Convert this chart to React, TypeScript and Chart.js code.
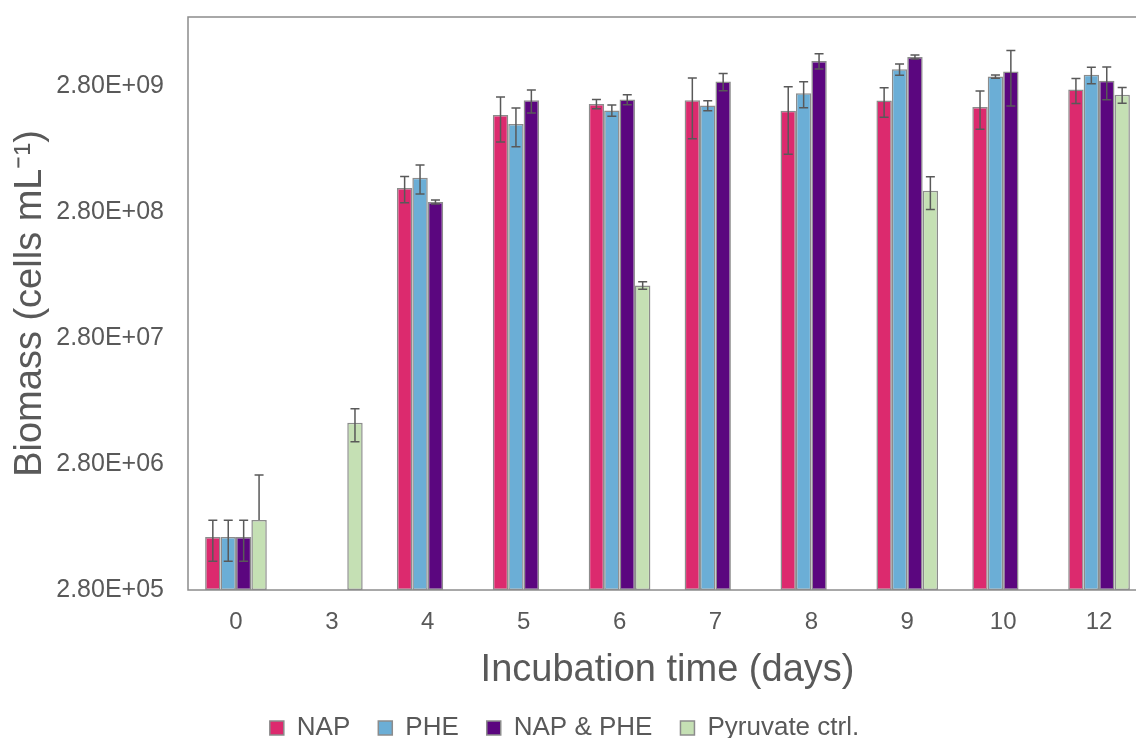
import React, { useEffect, useRef } from 'react';
import { Chart, registerables } from 'chart.js';

Chart.register(...registerables);

// ---- Data ----
const days = ['0', '3', '4', '5', '6', '7', '8', '9', '10', '12'];
const seriesNames = ['NAP', 'PHE', 'NAP & PHE', 'Pyruvate ctrl.'];

const napValues = [7.39e5, null, 4.38e8, 1.668e9, 2.04e9, 2.18e9, 1.8e9, 2.17e9, 1.93e9, 2.65e9];
const napErrors = [2.65e5, null, 1.035e8, 6.5e8, 1.7e8, 1.1e9, 9.9e8, 5.75e8, 6.5e8, 6.0e8];

const pheValues = [7.39e5, null, 5.29e8, 1.41e9, 1.81e9, 1.98e9, 2.48e9, 3.84e9, 3.36e9, 3.47e9];
const pheErrors = [2.65e5, null, 1.375e8, 4.8e8, 1.85e8, 1.8e8, 5.75e8, 3.9e8, 9.5e7, 5.15e8];

const napPheValues = [7.39e5, null, 3.39e8, 2.18e9, 2.21e9, 3.07e9, 4.48e9, 4.82e9, 3.69e9, 3.11e9];
const napPheErrors = [2.65e5, null, 1.2e7, 4.5e8, 2.0e8, 4.8e8, 6.2e8, 1.75e8, 1.73e9, 9.05e8];

const pyruvateValues = [1.009e6, 5.96e6, null, null, 7.36e7, null, null, 4.17e8, null, 2.41e9];
const pyruvateErrors = [1.29e6, 1.75e6, null, null, 5.0e6, null, null, 1.22e8, null, 3.45e8];

const yTickValues = [2.8e5, 2.8e6, 2.8e7, 2.8e8, 2.8e9];
const yTickLabels = ['2.80E+05', '2.80E+06', '2.80E+07', '2.80E+08', '2.80E+09'];
const yMin = 2.8e5;
const yMax = 1e10;

const seriesColors = ['#DC2A6E', '#6BAED6', '#5B067F', '#C5E0B4'];

const FONT = '"Liberation Sans", Arial, sans-serif';
const TEXT = '#595959';
const FRAME = '#8c8c8c';

const errorBarPlugin = {
  id: 'errorBars',
  afterDatasetsDraw(chart: any) {
    const ctx = chart.ctx;
    const yScale = chart.scales.y;
    ctx.save();
    ctx.strokeStyle = '#595959';
    ctx.lineWidth = 1.5;
    chart.data.datasets.forEach((ds: any, di: number) => {
      const meta = chart.getDatasetMeta(di);
      if (meta.hidden) return;
      meta.data.forEach((bar: any, i: number) => {
        const v = ds.data[i];
        const e = ds.errors ? ds.errors[i] : null;
        if (v == null || e == null) return;
        const x = bar.x;
        const yTop = yScale.getPixelForValue(v + e);
        const yVal = yScale.getPixelForValue(v);
        const hasLow = v - e > 0;
        const yLow = hasLow ? yScale.getPixelForValue(v - e) : yVal;
        const cap = 4.5;
        ctx.beginPath();
        ctx.moveTo(x, yTop);
        ctx.lineTo(x, yLow);
        ctx.moveTo(x - cap, yTop);
        ctx.lineTo(x + cap, yTop);
        if (hasLow) {
          ctx.moveTo(x - cap, yLow);
          ctx.lineTo(x + cap, yLow);
        }
        ctx.stroke();
      });
    });
    ctx.restore();
  },
};

const framePlugin = {
  id: 'frame',
  afterLayout(chart: any) {
    if (chart.legend) {
      chart.legend.left -= 9;
      chart.legend.right -= 9;
    }
  },
  afterDatasetsDraw(chart: any) {
    const { ctx, chartArea } = chart;
    ctx.save();
    ctx.strokeStyle = FRAME;
    ctx.lineWidth = 1.5;
    ctx.strokeRect(chartArea.left, chartArea.top, chartArea.right - chartArea.left, chartArea.bottom - chartArea.top);
    ctx.restore();
  },
};

export default function App() {
  const ref = useRef<HTMLCanvasElement | null>(null);

  useEffect(() => {
    document.documentElement.style.overflow = 'hidden';
    document.body.style.overflow = 'hidden';
    const canvas = ref.current;
    if (!canvas) return;
    const valueSets = [napValues, pheValues, napPheValues, pyruvateValues];
    const errorSets = [napErrors, pheErrors, napPheErrors, pyruvateErrors];
    const chart = new Chart(canvas, {
      type: 'bar',
      data: {
        labels: days,
        datasets: seriesNames.map((name, k) => ({
          label: name,
          data: valueSets[k],
          errors: errorSets[k],
          backgroundColor: seriesColors[k],
          borderColor: FRAME,
          borderWidth: 1.5,
          borderSkipped: false,
          categoryPercentage: 0.643,
          barPercentage: 1.0,
        })) as any,
      },
      options: {
        responsive: false,
        animation: false,
        layout: { padding: { left: 0, right: 13, top: 17, bottom: 0 } },
        plugins: {
          legend: {
            position: 'bottom',
            labels: {
              boxWidth: 14,
              boxHeight: 14,
              padding: 28,
              color: TEXT,
              font: { size: 26, family: FONT },
            },
          },
          tooltip: { enabled: false },
        },
        scales: {
          x: {
            grid: { display: false, drawTicks: false },
            border: { display: false },
            ticks: { padding: 18, color: TEXT, font: { size: 24, family: FONT } },
            title: {
              display: true,
              text: 'Incubation time (days)',
              color: TEXT,
              font: { size: 38, family: FONT },
              padding: { top: 0, bottom: -6 },
            },
            afterFit: (s: any) => {
              s.height = 97;
            },
          },
          y: {
            type: 'logarithmic',
            min: yMin,
            max: yMax,
            grid: { display: false, drawTicks: false },
            border: { display: false },
            afterBuildTicks: (s: any) => {
              s.ticks = yTickValues.map((v) => ({ value: v }));
            },
            ticks: {
              padding: 24,
              color: TEXT,
              font: { size: 25, family: FONT },
              autoSkip: false,
              callback: (_v: any, i: number) => yTickLabels[i],
            },
            title: {
              display: true,
              text: 'Biomass (cells mL⁻¹)',
              color: TEXT,
              font: { size: 38, family: FONT },
              padding: { top: 8, bottom: 0 },
            },
            afterFit: (s: any) => {
              s.width = 188;
              s.paddingTop = 0;
              s.paddingBottom = 0;
            },
          },
        },
      } as any,
      plugins: [errorBarPlugin, framePlugin],
    });
    return () => chart.destroy();
  }, []);

  return (
    <div style={{ position: 'fixed', left: 0, top: 0, width: 1160, height: 751, background: '#fff' }}>
      <canvas ref={ref} width={1160} height={751} style={{ display: 'block' }} />
    </div>
  );
}
